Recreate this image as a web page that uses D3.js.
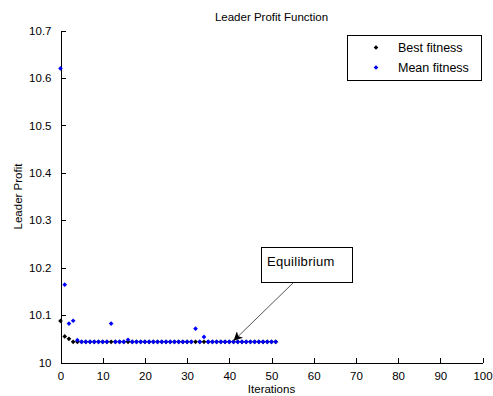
<!DOCTYPE html>
<html><head><meta charset="utf-8">
<script src="https://cdn.jsdelivr.net/npm/d3@7"></script>
<style>
body{margin:0;background:#fff;}
text{font-family:"Liberation Sans",Arial,sans-serif;font-size:11px;fill:#000;}
</style></head>
<body><svg id="c" width="493" height="396"></svg>
<script>
const iterations = d3.range(0, 52);
const bestFitness = [10.0876,10.055,10.050,10.0435,10.0435,10.0435,10.0435,10.0435,10.0435,10.0435,
 10.0435,10.0435,10.0435,10.0435,10.0435,10.0435,10.0435,10.0435,10.0435,10.0435,
 10.0435,10.0435,10.0435,10.0435,10.0435,10.0435,10.0435,10.0435,10.0435,10.0435,
 10.0435,10.0435,10.0435,10.0435,10.0435,10.0435,10.0435,10.0435,10.0435,10.0435,
 10.0435,10.0435,10.0435,10.0435,10.0435,10.0435,10.0435,10.0435,10.0435,10.0435,
 10.0435,10.0435];
const meanFitness = [10.62,10.164,10.082,10.088,10.047,10.0435,10.0435,10.0435,10.0435,10.0435,
 10.0435,10.0435,10.082,10.0435,10.0435,10.0435,10.048,10.0435,10.0435,10.0435,
 10.0435,10.0435,10.0435,10.0435,10.0435,10.0435,10.0435,10.0435,10.0435,10.0435,
 10.0435,10.0435,10.0714,10.0435,10.054,10.0435,10.0435,10.0435,10.0435,10.0435,
 10.0435,10.0435,10.0435,10.0435,10.0435,10.0435,10.0435,10.0435,10.0435,10.0435,
 10.0435,10.0435];
const xTicks = [0,10,20,30,40,50,60,70,80,90,100];
const yTicks = [10,10.1,10.2,10.3,10.4,10.5,10.6,10.7];
const seriesNames = ["Best fitness","Mean fitness"];
const seriesColors = ["#000000","#0000ff"];
const annotationText = "Equilibrium";
const annotationPoint = [41, 10.0435];

const svg = d3.select("#c");
const x = d3.scaleLinear().domain([0,100]).range([60.5,482.5]);
const y = d3.scaleLinear().domain([10,10.7]).range([362.5,30.5]);

// axes
const xAxis = d3.axisBottom(x).tickValues(xTicks).tickSizeInner(-5).tickSizeOuter(0).tickPadding(9).tickFormat(d3.format("d"));
const yAxis = d3.axisLeft(y).tickValues(yTicks).tickSizeInner(-5).tickSizeOuter(0).tickPadding(9).tickFormat(d=> d===10?"10":d3.format(".1f")(d));
const gx = svg.append("g").attr("transform","translate(0,362.5)").call(xAxis);
const gy = svg.append("g").attr("transform","translate(60.5,0)").call(yAxis);
[gx,gy].forEach(g=>{
  g.selectAll("path,line").attr("stroke","#000").attr("stroke-width",1).attr("shape-rendering","crispEdges");
  g.selectAll("text").style("font-family","'Liberation Sans',Arial,sans-serif").style("font-size","11.5px").attr("fill","#000");
});

// points (MATLAB '.' markers)
const dot = d3.symbol().type(d3.symbolDiamond2).size(14);
const data = [bestFitness, meanFitness];
data.forEach((vals,i)=>{
  svg.append("g").selectAll("path").data(vals).join("path")
    .attr("d",dot)
    .attr("transform",(d,j)=>`translate(${x(iterations[j])},${y(d)})`)
    .attr("fill",seriesColors[i]);
});

// labels
svg.append("text").attr("x",271.5).attr("y",21).attr("text-anchor","middle").style("font-size","11.5px").text("Leader Profit Function");
svg.append("text").attr("x",271.5).attr("y",393).attr("text-anchor","middle").style("font-size","11.5px").text("Iterations");
svg.append("text").attr("transform","translate(22,196.5) rotate(-90)").attr("text-anchor","middle").style("font-size","11.5px").text("Leader Profit");

// legend
const lg = svg.append("g");
lg.append("rect").attr("x",347.5).attr("y",35.5).attr("width",134).attr("height",45).attr("fill","#fff").attr("stroke","#000");
seriesNames.forEach((n,i)=>{
  lg.append("path").attr("d",dot).attr("transform",`translate(376,${47.5+i*20})`).attr("fill",seriesColors[i]);
  lg.append("text").attr("x",398).attr("y",52+i*20).style("font-size","12.5px").text(n);
});

// annotation
const defs = svg.append("defs");
defs.append("marker").attr("id","ah").attr("viewBox","0 0 10 10").attr("refX",10).attr("refY",5)
  .attr("markerWidth",12).attr("markerHeight",9).attr("markerUnits","userSpaceOnUse").attr("orient","auto")
  .append("path").attr("d","M0,0 L10,5 L0,10 L2.5,5 Z").attr("fill","#000");
const ax = x(annotationPoint[0]), ay = y(annotationPoint[1]);
svg.append("line").attr("x1",293).attr("y1",283).attr("x2",ax).attr("y2",ay-1)
  .attr("stroke","#555").attr("stroke-width",1).attr("marker-end","url(#ah)");
svg.append("rect").attr("x",261.5).attr("y",247.5).attr("width",91).attr("height",35).attr("fill","#fff").attr("stroke","#000");
svg.append("text").attr("x",267).attr("y",266).style("font-size","13px").style("letter-spacing","0.3px").text(annotationText);
</script></body></html>
